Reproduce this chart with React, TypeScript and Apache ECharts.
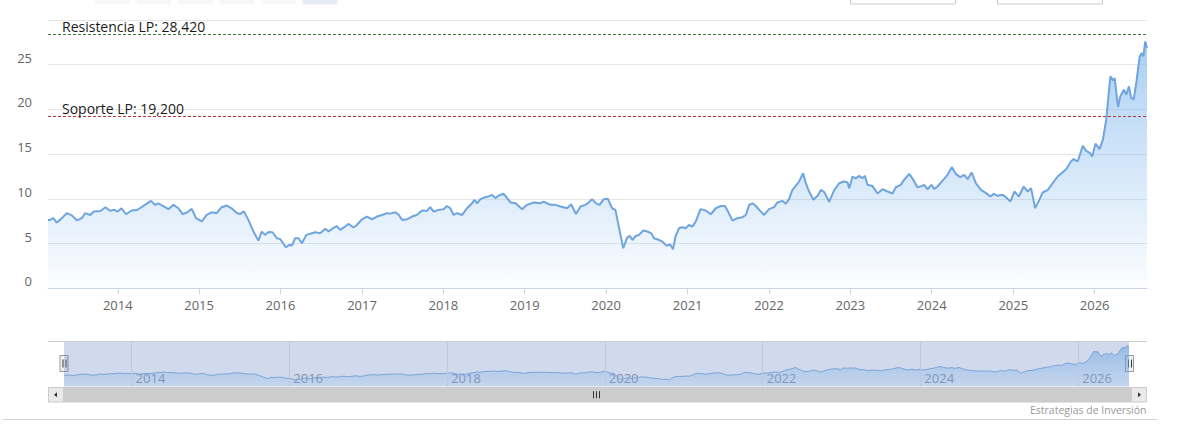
import React, { useEffect, useRef } from "react";
import * as echarts from "echarts";

// ---- data ----
const dates: string[] = [
  "2013-02-22","2013-03-03","2013-03-18","2013-04-02","2013-04-17","2013-05-17","2013-06-09","2013-07-01","2013-07-24","2013-08-08",
  "2013-08-31","2013-09-15","2013-10-15","2013-11-07","2013-11-29","2013-12-14","2013-12-31","2014-01-18","2014-02-07","2014-03-04",
  "2014-03-27","2014-04-10","2014-05-03","2014-05-30","2014-06-17","2014-07-02","2014-08-01","2014-08-16","2014-09-08","2014-09-30",
  "2014-10-19","2014-11-06","2014-11-29","2014-12-18","2015-01-13","2015-02-04","2015-02-26","2015-03-21","2015-04-12","2015-05-05",
  "2015-05-27","2015-06-18","2015-07-03","2015-07-21","2015-08-10","2015-09-02","2015-09-24","2015-10-09","2015-10-24","2015-11-08",
  "2015-11-26","2015-12-16","2015-12-31","2016-01-25","2016-02-10","2016-02-21","2016-03-07","2016-03-22","2016-04-06","2016-04-26",
  "2016-05-14","2016-06-05","2016-06-27","2016-07-20","2016-08-04","2016-08-26","2016-09-10","2016-09-25","2016-10-17","2016-11-01",
  "2016-11-24","2016-12-09","2017-01-01","2017-01-23","2017-02-15","2017-03-09","2017-04-01","2017-04-23","2017-05-08","2017-05-31",
  "2017-06-15","2017-06-30","2017-07-22","2017-08-13","2017-09-04","2017-09-27","2017-10-19","2017-11-03","2017-11-18","2017-12-11",
  "2018-01-02","2018-01-17","2018-02-01","2018-02-16","2018-03-03","2018-03-26","2018-04-17","2018-05-10","2018-05-20","2018-06-01",
  "2018-06-16","2018-07-09","2018-07-24","2018-08-08","2018-08-22","2018-09-07","2018-09-29","2018-10-14","2018-10-29","2018-11-21",
  "2018-12-20","2019-01-11","2019-02-10","2019-03-12","2019-03-27","2019-04-26","2019-05-19","2019-06-10","2019-07-10","2019-07-28",
  "2019-08-19","2019-09-08","2019-09-30","2019-10-15","2019-10-30","2019-11-17","2019-12-03","2019-12-21","2020-01-09","2020-01-28",
  "2020-02-12","2020-02-27","2020-03-18","2020-04-05","2020-04-17","2020-04-28","2020-05-13","2020-05-28","2020-06-16","2020-07-04",
  "2020-07-22","2020-08-03","2020-08-26","2020-09-09","2020-09-29","2020-10-14","2020-10-27","2020-11-08","2020-11-23","2020-12-08",
  "2020-12-23","2021-01-07","2021-01-22","2021-02-06","2021-02-28","2021-03-23","2021-04-15","2021-05-07","2021-05-30","2021-06-17",
  "2021-07-01","2021-07-21","2021-08-12","2021-09-04","2021-09-19","2021-10-04","2021-10-19","2021-11-03","2021-11-25","2021-12-10",
  "2022-01-01","2022-01-24","2022-02-08","2022-03-02","2022-03-17","2022-04-01","2022-04-16","2022-05-01","2022-05-16","2022-06-03",
  "2022-06-15","2022-06-30","2022-07-19","2022-08-07","2022-08-22","2022-09-06","2022-09-28","2022-10-21","2022-11-12","2022-12-01",
  "2022-12-19","2022-12-27","2023-01-11","2023-01-25","2023-02-10","2023-02-24","2023-03-07","2023-03-19","2023-04-10","2023-05-03",
  "2023-05-25","2023-06-17","2023-07-09","2023-07-24","2023-08-15","2023-08-30","2023-09-22","2023-10-11","2023-10-29","2023-11-13",
  "2023-11-28","2023-12-13","2023-12-31","2024-01-12","2024-01-27","2024-02-19","2024-03-12","2024-03-31","2024-04-18","2024-05-08",
  "2024-05-26","2024-06-10","2024-06-28","2024-07-17","2024-08-09","2024-09-01","2024-09-20","2024-10-05","2024-10-23","2024-11-14",
  "2024-11-29","2024-12-19","2025-01-06","2025-01-26","2025-02-17","2025-03-07","2025-03-22","2025-04-09","2025-04-28","2025-05-13",
  "2025-06-05","2025-06-27","2025-07-19","2025-08-03","2025-08-26","2025-09-17","2025-09-29","2025-10-17","2025-11-09","2025-11-24",
  "2025-12-09","2025-12-21","2026-01-05","2026-01-23","2026-02-07","2026-02-22","2026-03-04","2026-03-13","2026-03-24","2026-04-01",
  "2026-04-16","2026-04-26","2026-05-12","2026-05-23","2026-06-04","2026-06-14","2026-06-25","2026-07-07","2026-07-22","2026-08-01",
  "2026-08-08","2026-08-16","2026-08-24",
];

const prices: number[] = [
  7.65, 7.65, 7.84, 7.35, 7.65, 8.4, 8.15, 7.6, 7.84, 8.4,
  8.2, 8.58, 8.65, 9.07, 8.65, 8.8, 8.58, 8.95, 8.28, 8.7,
  8.75, 8.95, 9.33, 9.78, 9.33, 9.5, 9.07, 8.85, 9.33, 8.95,
  8.3, 8.45, 8.88, 7.84, 7.47, 8.2, 8.5, 8.4, 9.07, 9.25,
  8.95, 8.45, 8.3, 8.6, 7.65, 6.34, 5.33, 6.34, 5.97, 6.3,
  6.27, 5.6, 5.5, 4.59, 4.85, 4.78, 5.6, 5.6, 5.04, 5.97,
  6.1, 6.27, 6.15, 6.65, 6.35, 6.75, 6.95, 6.53, 6.9, 7.2,
  6.8, 7.08, 7.72, 8.02, 7.72, 8.02, 8.2, 8.4, 8.35, 8.5,
  8.2, 7.65, 7.72, 8.02, 8.2, 8.7, 8.65, 9.07, 8.58, 8.77,
  8.85, 9.2, 8.95, 8.2, 8.4, 8.2, 8.95, 9.5, 9.9, 9.5,
  9.97, 10.2, 10.27, 10.45, 10.08, 10.38, 10.57, 10.08, 9.6, 9.5,
  8.85, 9.33, 9.6, 9.5, 9.7, 9.33, 9.33, 9.15, 8.95, 9.4,
  8.3, 9.15, 9.33, 9.6, 9.97, 9.5, 9.33, 9.97, 10.0, 8.95,
  8.77, 6.9, 4.48, 5.7, 5.85, 5.4, 5.85, 5.97, 6.46, 6.35,
  6.15, 5.6, 5.4, 5.23, 4.74, 4.92, 4.37, 5.85, 6.71, 6.83,
  6.71, 7.08, 6.9, 7.46, 8.85, 8.7, 8.28, 8.95, 9.2, 9.2,
  8.58, 7.57, 7.84, 7.95, 8.2, 9.33, 9.5, 9.2, 8.58, 8.2,
  8.85, 9.07, 9.6, 9.78, 9.45, 9.97, 11.0, 11.45, 11.94, 12.87,
  11.75, 10.82, 9.9, 10.35, 11.0, 10.75, 9.67, 11.0, 11.75, 11.94,
  11.85, 11.2, 12.5, 12.3, 12.57, 12.3, 12.57, 11.57, 11.45, 10.6,
  11.08, 10.82, 10.6, 11.3, 11.57, 12.12, 12.8, 12.12, 11.3, 11.4,
  11.57, 11.08, 11.57, 11.1, 11.38, 12.05, 12.69, 13.55, 12.8, 12.43,
  12.69, 12.2, 12.95, 11.76, 11.0, 10.64, 10.26, 10.56, 10.34, 10.45,
  10.19, 9.7, 10.82, 10.26, 11.38, 10.82, 11.2, 8.96, 9.89, 10.71,
  11.0, 11.76, 12.5, 12.8, 13.32, 14.18, 14.45, 14.18, 15.94, 15.37,
  15.18, 14.74, 16.17, 15.57, 16.6, 18.85, 21.46, 23.7, 23.25, 23.5,
  20.27, 21.46, 22.2, 21.66, 22.58, 21.3, 21.12, 22.96, 25.94, 26.3,
  25.94, 27.6, 26.88,
];

const mainTickYears: number[] = [2014, 2015, 2016, 2017, 2018, 2019, 2020, 2021, 2022, 2023, 2024, 2025, 2026];
const navTickYears: number[] = [2014, 2016, 2018, 2020, 2022, 2024, 2026];

const yMin = 0;
const yMax = 30;
const yStep = 5;

const levelNames: string[] = ["Resistencia LP", "Soporte LP"];
const levelValues: number[] = [28.42, 19.2];
const levelTexts: string[] = ["28,420", "19,200"];
const levelColors: string[] = ["#3d7b3d", "#b23a3f"];

const creditText = "Estrategias de Inversión";

// ---- helpers ----
const toTs = (s: string): number => {
  const [y, m, d] = s.split("-").map(Number);
  return new Date(y, m - 1, d).getTime();
};
const yearTs = (y: number): number => new Date(y, 0, 1).getTime();
const yearFmt = (v: number): string => String(new Date(v + 43200000).getFullYear());

const FONT = "'Open Sans', 'DejaVu Sans', sans-serif";

export default function App() {
  const ref = useRef<HTMLDivElement>(null);

  useEffect(() => {
    if (!ref.current) return;
    const chart = echarts.init(ref.current, undefined, { renderer: "svg" });

    const seriesData = dates.map((d, i) => [toTs(d), prices[i]]);
    const t0 = toTs(dates[0]);
    const t1 = toTs(dates[dates.length - 1]);
    const mainTicks = mainTickYears.map(yearTs);
    const navTicks = navTickYears.map(yearTs);

    const navTop = 342;
    const navH = 44.5;

    const option: any = {
      animation: false,
      backgroundColor: "#ffffff",
      textStyle: { fontFamily: FONT },
      grid: [
        { left: 48, top: 20, width: 1099, height: 268.3 },
        { left: 64, top: navTop, width: 1065, height: navH },
      ],
      xAxis: [
        {
          type: "value",
          gridIndex: 0,
          min: t0,
          max: t1,
          axisLine: { show: true, lineStyle: { color: "#ccd6eb", width: 1 } },
          axisTick: { show: true, length: 6, lineStyle: { color: "#ccd6eb" }, customValues: mainTicks },
          axisLabel: {
            customValues: mainTicks,
            formatter: (v: number) => yearFmt(v),
            color: "#666666",
            fontSize: 13,
            fontFamily: FONT,
            margin: 10,
          },
          splitLine: { show: false },
        },
        {
          type: "value",
          gridIndex: 1,
          min: t0,
          max: t1,
          axisLine: { show: false },
          axisTick: { show: false },
          splitLine: { show: false },
          axisLabel: {
            customValues: navTicks,
            inside: true,
            formatter: (v: number) => yearFmt(v),
            color: "#8c94a6",
            fontSize: 13,
            fontFamily: FONT,
            align: "left",
            padding: [0, 0, 0, 4],
            margin: 2,
          },
        },
      ],
      yAxis: [
        {
          type: "value",
          gridIndex: 0,
          min: yMin,
          max: yMax,
          interval: yStep,
          axisLine: { show: false },
          axisTick: { show: false },
          splitLine: { show: true, lineStyle: { color: "#e6e6e6", width: 1 } },
          axisLabel: {
            showMaxLabel: false,
            color: "#666666",
            fontSize: 13,
            fontFamily: FONT,
            verticalAlign: "bottom",
            lineHeight: 14,
            margin: 16,
          },
        },
        {
          type: "value",
          gridIndex: 1,
          min: yMin,
          max: yMax,
          show: false,
        },
      ],
      series: [
        {
          type: "line",
          xAxisIndex: 0,
          yAxisIndex: 0,
          data: seriesData,
          showSymbol: false,
          symbol: "none",
          smooth: false,
          lineStyle: { color: "#6fa5de", width: 2 },
          itemStyle: { color: "#6fa5de" },
          areaStyle: {
            color: new echarts.graphic.LinearGradient(0, 0, 0, 1, [
              { offset: 0, color: "rgba(124,181,236,0.92)" },
              { offset: 1, color: "rgba(124,181,236,0.03)" },
            ]),
          },
          markLine: {
            silent: true,
            symbol: ["none", "none"],
            animation: false,
            data: levelValues.map((v, i) => ({
              yAxis: v,
              lineStyle: { color: levelColors[i], type: [3, 2], width: 1.2 },
              label: {
                show: true,
                position: "insideStartTop",
                formatter: `${levelNames[i]}: ${levelTexts[i]}`,
                color: "#1a1a1a",
                fontSize: 14,
                fontFamily: FONT,
                distance: [14, 1],
              },
            })),
          },
        },
        {
          type: "line",
          xAxisIndex: 1,
          yAxisIndex: 1,
          data: seriesData,
          showSymbol: false,
          symbol: "none",
          lineStyle: { color: "#7aa3d6", width: 1 },
          itemStyle: { color: "#7aa3d6" },
          areaStyle: {
            color: new echarts.graphic.LinearGradient(0, 0, 0, 1, [
              { offset: 0, color: "rgba(110,165,225,0.85)" },
              { offset: 1, color: "rgba(124,181,236,0.2)" },
            ]),
          },
          markArea: {
            silent: true,
            itemStyle: { color: "rgba(102,133,194,0.3)" },
            data: [[{ xAxis: t0 }, { xAxis: t1 }]],
          },
          markLine: {
            silent: true,
            symbol: ["none", "none"],
            animation: false,
            label: { show: false },
            lineStyle: { color: "#c0c8da", type: "solid", width: 1 },
            data: navTicks.map((t) => ({ xAxis: t })),
          },
        },
      ],
    };

    chart.setOption(option);

    // chrome (navigator handles, scrollbar, range selector, credits)
    const xL = chart.convertToPixel({ xAxisIndex: 1 }, t0) as number;
    const xR = chart.convertToPixel({ xAxisIndex: 1 }, t1) as number;
    const navLeft = 48;
    const navRight = 1147;
    const sbTop = 387;
    const sbH = 15.5;
    const sbMid = sbTop + sbH / 2;
    const thumbMid = (xL + xR) / 2;

    const handle = (cx: number) => ({
      type: "group",
      z: 120,
      children: [
        { type: "rect", shape: { x: cx - 4.5, y: 355.5, width: 8, height: 16 }, style: { fill: "#f2f2f2", stroke: "#999999", lineWidth: 1 } },
        { type: "line", shape: { x1: cx - 1.5, y1: 359.5, x2: cx - 1.5, y2: 367.5 }, style: { stroke: "#333333", lineWidth: 1 } },
        { type: "line", shape: { x1: cx + 1.5, y1: 359.5, x2: cx + 1.5, y2: 367.5 }, style: { stroke: "#333333", lineWidth: 1 } },
      ],
    });

    const btnXs = [95, 136.5, 178, 219.5, 261, 302.5];
    const graphic: any[] = [
      ...btnXs.map((x, i) => ({
        type: "rect",
        z: 100,
        shape: { x, y: -12, width: 35, height: 16.5, r: 2 },
        style: { fill: i === btnXs.length - 1 ? "#e6ebf5" : "#f7f7f7", stroke: "none" },
      })),
      { type: "rect", z: 100, shape: { x: 850.5, y: -12, width: 105, height: 16 }, style: { fill: "#ffffff", stroke: "#cccccc", lineWidth: 1 } },
      { type: "rect", z: 100, shape: { x: 997.5, y: -12, width: 105, height: 16 }, style: { fill: "#ffffff", stroke: "#cccccc", lineWidth: 1 } },
      { type: "line", z: 110, shape: { x1: navLeft, y1: navTop - 0.5, x2: navRight, y2: navTop - 0.5 }, style: { stroke: "#cccccc", lineWidth: 1 } },
      handle(xL + 0.5),
      handle(xR + 1),
      { type: "rect", z: 100, shape: { x: navLeft, y: sbTop, width: navRight - navLeft, height: sbH }, style: { fill: "#f2f2f2", stroke: "none" } },
      { type: "rect", z: 101, shape: { x: xL, y: sbTop, width: xR - xL + 2, height: sbH }, style: { fill: "#cccccc", stroke: "none" } },
      { type: "line", z: 102, shape: { x1: thumbMid - 3, y1: sbMid - 3.5, x2: thumbMid - 3, y2: sbMid + 3.5 }, style: { stroke: "#333333", lineWidth: 1 } },
      { type: "line", z: 102, shape: { x1: thumbMid, y1: sbMid - 3.5, x2: thumbMid, y2: sbMid + 3.5 }, style: { stroke: "#333333", lineWidth: 1 } },
      { type: "line", z: 102, shape: { x1: thumbMid + 3, y1: sbMid - 3.5, x2: thumbMid + 3, y2: sbMid + 3.5 }, style: { stroke: "#333333", lineWidth: 1 } },
      { type: "rect", z: 103, shape: { x: navLeft + 0.5, y: sbTop + 0.5, width: xL - navLeft - 1, height: sbH - 1 }, style: { fill: "#e9e9e9", stroke: "#cccccc", lineWidth: 1 } },
      { type: "polygon", z: 104, shape: { points: [[navLeft + 6, sbMid], [navLeft + 9, sbMid - 2.5], [navLeft + 9, sbMid + 2.5]] }, style: { fill: "#333333" } },
      { type: "rect", z: 103, shape: { x: xR + 2.5, y: sbTop + 0.5, width: navRight - xR - 3, height: sbH - 1 }, style: { fill: "#e9e9e9", stroke: "#cccccc", lineWidth: 1 } },
      { type: "polygon", z: 104, shape: { points: [[navRight - 6, sbMid], [navRight - 9, sbMid - 2.5], [navRight - 9, sbMid + 2.5]] }, style: { fill: "#333333" } },
      {
        type: "text",
        z: 100,
        x: 1146.5,
        y: 410,
        style: { text: creditText, fill: "#999999", fontSize: 10.5, fontFamily: FONT, align: "right", verticalAlign: "middle" },
      },
      { type: "line", z: 100, shape: { x1: 3, y1: 419.5, x2: 1157, y2: 419.5 }, style: { stroke: "#d0d0d0", lineWidth: 1 } },
    ];

    chart.setOption({ graphic });

    return () => {
      chart.dispose();
    };
  }, []);

  return (
    <div
      ref={ref}
      style={{ position: "absolute", left: 0, top: 0, width: 1187, height: 442, background: "#ffffff" }}
    />
  );
}
